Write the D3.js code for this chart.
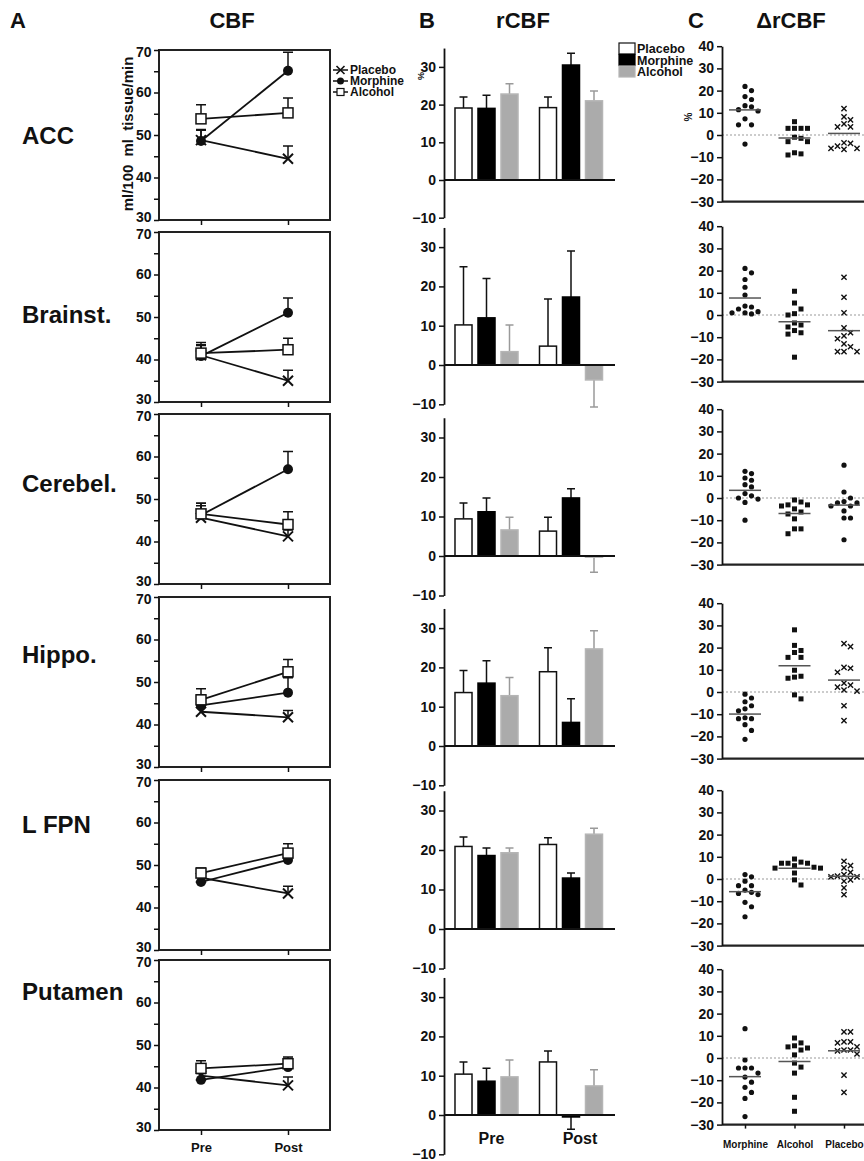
<!DOCTYPE html>
<html>
<head>
<meta charset="utf-8">
<script src="https://cdn.jsdelivr.net/npm/d3@7"></script>
<style>
  body { margin: 0; background: #fff; }
  text { font-family: "Liberation Sans", Arial, sans-serif; font-weight: bold; fill: #111; }
</style>
</head>
<body>
<div id="chart"></div>
<script>
// ---- data ----
const regions = ["ACC", "Brainst.", "Cerebel.", "Hippo.", "L FPN", "Putamen"];
const groups = ["Placebo", "Morphine", "Alcohol"];
const times = ["Pre", "Post"];
const deltaGroups = ["Morphine", "Alcohol", "Placebo"];

// A: CBF (ml/100 ml tissue/min), [region][Pre, Post]
const cbfPlacebo   = [[48.8, 44.4], [41.0, 35.0], [45.6, 41.2], [43.0, 41.7], [47.0, 43.3], [42.8, 40.5]];
const cbfPlaceboSE = [[2.5, 3.0], [2.5, 2.5], [2.8, 1.5], [1.5, 1.6], [1.5, 1.7], [1.5, 2.0]];
const cbfMorphine   = [[48.6, 65.1], [40.8, 51.0], [46.2, 57.0], [44.5, 47.5], [46.0, 51.2], [41.8, 44.8]];
const cbfMorphineSE = [[2.5, 4.4], [2.5, 3.5], [2.8, 4.2], [2.5, 3.5], [1.5, 2.0], [1.5, 2.0]];
const cbfAlcohol   = [[53.8, 55.2], [41.5, 42.3], [46.5, 44.0], [45.8, 52.4], [48.1, 52.8], [44.5, 45.6]];
const cbfAlcoholSE = [[3.3, 3.5], [2.5, 2.7], [2.5, 3.0], [2.6, 2.9], [1.2, 2.2], [1.8, 1.6]];

// B: rCBF (%), [region][Pre, Post]
const rcbfPlacebo   = [[19.1, 19.2], [10.2, 4.8], [9.4, 6.3], [13.6, 18.9], [20.9, 21.4], [10.4, 13.5]];
const rcbfPlaceboSE = [[2.9, 2.8], [14.8, 12.0], [4.0, 3.5], [5.6, 6.1], [2.4, 1.7], [3.1, 2.8]];
const rcbfMorphine   = [[19.0, 30.5], [12.0, 17.3], [11.2, 14.7], [16.0, 6.0], [18.6, 12.9], [8.6, -0.5]];
const rcbfMorphineSE = [[3.5, 3.1], [10.0, 11.7], [3.5, 2.3], [5.7, 6.0], [1.9, 1.3], [3.3, 3.1]];
const rcbfAlcohol   = [[22.8, 21.0], [3.4, -3.8], [6.6, -0.3], [12.8, 24.7], [19.3, 24.0], [9.7, 7.4]];
const rcbfAlcoholSE = [[2.7, 2.6], [6.8, 6.9], [3.2, 3.8], [4.6, 4.6], [1.2, 1.5], [4.3, 4.1]];

// C: ΔrCBF (%), individual subjects, [region][subject]
const dMorphine = [
  [21.9, 20, 17.3, 16, 13.2, 12.7, 11.4, 10.8, 7.3, 4.6, 4.6, -4.1],
  [21, 19, 16, 12.5, 9, 4, 3.6, 2.7, 1.5, 1, 1, 0.5],
  [12, 11, 9, 8, 6, 5, 2, 1, 0, -0.5, -2, -10],
  [-1, -2.7, -4.4, -6.2, -7.6, -8.5, -11.6, -12, -12, -14.7, -17.3, -21.3],
  [2, 1, -1, -3, -3, -5, -6, -6.5, -7, -10.5, -12.5, -17],
  [13.2, -0.9, -4.5, -4.5, -4.5, -6.8, -8.6, -10.9, -13.2, -15.5, -18.2, -26.4]
];
const dAlcohol = [
  [6, 3, 3, 3, 3, -1, -1.5, -3, -3, -8, -8.5, -9],
  [10.7, 5.4, 2.7, 0.6, 0, -3.6, -4.5, -5.4, -7, -8, -8.6, -19],
  [-0.9, -1.8, -3.1, -3.1, -3.6, -4.9, -6.3, -7.2, -9.4, -13.9, -13.9, -16.1],
  [28, 21, 18.7, 17.8, 15.6, 15.6, 9.8, 7.1, 6.7, 6.2, -1.3, -3.1],
  [9, 7.6, 7.1, 7.1, 7.1, 6, 5.3, 4.9, 4.9, 2.7, -0.4, -2.7],
  [9, 6.8, 5.5, 5, 4.5, 3.6, 1.4, -2.3, -4.1, -6.8, -17.7, -24]
];
const dPlacebo = [
  [11.9, 8.2, 6.8, 5, 3.7, 3.7, -3.5, -3.8, -5, -6, -6, -6.5],
  [17, 8, 1, -5.8, -8, -9.4, -10.7, -13, -14.3, -16.5, -16.5, -16.5],
  [14.8, 2.7, 0, -1.6, -2.2, -2.2, -3.6, -3.6, -5.8, -9, -9, -18.8],
  [21.8, 20.4, 11.1, 10.7, 8.9, 4, 3.1, 2.2, 0.9, 0.4, -6.2, -12.9],
  [8, 6, 5, 3, 2, 1.3, 1, 1, -0.4, -1, -4, -7],
  [11.8, 11.8, 7.3, 7.3, 6.8, 5, 3.6, 3.6, 3.2, 1.8, -7.7, -15.5]
];

// ---- layout ----
const width = 864, height = 1161;
const rowLabelY = [144, 323, 492, 663, 833, 1000];
const aTop = [50, 232, 414, 597, 780, 960], aH = 170;
const bZero = [180, 365, 556, 746, 929, 1115];
const bUnit = [3.77, 3.93, 3.95, 3.93, 3.95, 3.93];
const cZero = [135, 315, 498, 692, 879, 1058], cUnit = 2.22;
const placeboDotRow = 2; // cerebellum placebo drawn as dots

const svg = d3.select("#chart").append("svg")
  .attr("width", width).attr("height", height);

const ink = "#111";

// titles
const title = (x, y, t, anchor) => svg.append("text").attr("x", x).attr("y", y)
  .attr("text-anchor", anchor || "start").style("font-size", "22px").text(t);
title(10, 28, "A"); title(232, 28, "CBF", "middle");
title(419, 28, "B"); title(523, 28, "rCBF", "middle");
title(688, 28, "C"); title(791, 28, "ΔrCBF", "middle");

regions.forEach((r, i) => {
  svg.append("text").attr("x", 22).attr("y", rowLabelY[i])
    .style("font-size", "24px").text(r);
});

// small helper: X marker
function xMark(g, x, y, s, w) {
  g.append("path")
    .attr("d", `M${x - s},${y - s}L${x + s},${y + s}M${x - s},${y + s}L${x + s},${y - s}`)
    .attr("stroke", ink).attr("stroke-width", w).attr("fill", "none");
}

// ---- panel A ----
const aX = d3.scalePoint().domain(times).range([201, 288]);
const cbf = [
  { name: "Placebo", m: cbfPlacebo, se: cbfPlaceboSE },
  { name: "Morphine", m: cbfMorphine, se: cbfMorphineSE },
  { name: "Alcohol", m: cbfAlcohol, se: cbfAlcoholSE }
];

function drawMarkerA(g, name, x, y) {
  if (name === "Placebo") xMark(g, x, y, 5, 2);
  else if (name === "Morphine") g.append("circle").attr("cx", x).attr("cy", y).attr("r", 5).attr("fill", ink);
  else g.append("rect").attr("x", x - 5).attr("y", y - 5).attr("width", 10).attr("height", 10)
    .attr("fill", "#fff").attr("stroke", ink).attr("stroke-width", 1.5);
}

regions.forEach((r, i) => {
  const g = svg.append("g");
  const y = d3.scaleLinear().domain([30, 70]).range([aTop[i] + aH, aTop[i]]);

  g.append("rect").attr("x", 159).attr("y", aTop[i]).attr("width", 171).attr("height", aH)
    .attr("fill", "none").attr("stroke", "#222").attr("stroke-width", 2);

  const ya = g.append("g").attr("transform", "translate(159,0)")
    .call(d3.axisLeft(y).tickValues(d3.range(30, 71, 5)).tickSize(5)
      .tickFormat(d => d % 10 === 0 ? d : ""));
  ya.select(".domain").remove();
  ya.selectAll("line").attr("stroke", ink).attr("stroke-width", 1.5);
  ya.selectAll("text").style("font-size", "14px").attr("dx", "0.5")
    .attr("dy", d => d === 30 ? "0.1em" : d === 70 ? "0.45em" : "0.32em");

  const xa = g.append("g").attr("transform", `translate(0,${aTop[i] + aH})`)
    .call(d3.axisBottom(aX).tickSize(5).tickFormat(d => i === regions.length - 1 ? d : ""));
  xa.select(".domain").remove();
  xa.selectAll("line").attr("stroke", ink).attr("stroke-width", 1.5);
  xa.selectAll("text").style("font-size", "13px").attr("dy", "1.1em");

  const line = d3.line().x(d => aX(d.t)).y(d => y(d.v));
  cbf.forEach(s => {
    const pts = times.map((t, k) => ({ t, v: s.m[i][k], e: s.se[i][k] }));
    g.append("path").datum(pts).attr("d", line).attr("fill", "none")
      .attr("stroke", ink).attr("stroke-width", 1.8);
    pts.forEach(p => {
      const x = aX(p.t);
      g.append("path")
        .attr("d", `M${x},${y(p.v)}V${y(p.v + p.e)}M${x - 5},${y(p.v + p.e)}H${x + 5}`)
        .attr("stroke", ink).attr("stroke-width", 1.5).attr("fill", "none");
    });
  });
  cbf.forEach(s => times.forEach((t, k) => drawMarkerA(g, s.name, aX(t), y(s.m[i][k]))));
});

// y label A
svg.append("text").attr("transform", "translate(133,134) rotate(-90)")
  .attr("text-anchor", "middle").style("font-size", "15px").style("word-spacing", "4px")
  .text("ml/100 ml tissue/min");

// legend A
groups.forEach((name, k) => {
  const ly = 70 + k * 11;
  svg.append("line").attr("x1", 333).attr("x2", 348).attr("y1", ly).attr("y2", ly)
    .attr("stroke", ink).attr("stroke-width", 1.5);
  const lg = svg.append("g");
  if (name === "Placebo") xMark(lg, 340.5, ly, 4, 1.6);
  else if (name === "Morphine") lg.append("circle").attr("cx", 340.5).attr("cy", ly).attr("r", 3.5).attr("fill", ink);
  else lg.append("rect").attr("x", 337).attr("y", ly - 3.5).attr("width", 7).attr("height", 7)
    .attr("fill", "#fff").attr("stroke", ink).attr("stroke-width", 1.2);
  svg.append("text").attr("x", 350).attr("y", ly + 4).style("font-size", "12px").text(name);
});

// ---- panel B ----
const bFill = { Placebo: "#fff", Morphine: "#000", Alcohol: "#ababab" };
const bStroke = { Placebo: "#111", Morphine: "#000", Alcohol: "#b5b5b5" };
const bErr = { Placebo: "#111", Morphine: "#111", Alcohol: "#9a9a9a" };
const rcbf = [
  { name: "Placebo", m: rcbfPlacebo, se: rcbfPlaceboSE },
  { name: "Morphine", m: rcbfMorphine, se: rcbfMorphineSE },
  { name: "Alcohol", m: rcbfAlcohol, se: rcbfAlcoholSE }
];
const bX0 = d3.scalePoint().domain(times).range([486.5, 571]);
const bX1 = d3.scaleBand().domain(groups).range([-34.5, 34.5]).paddingInner(0.26).paddingOuter(0.13);

regions.forEach((r, i) => {
  const g = svg.append("g");
  const y = d3.scaleLinear().domain([-10, 35])
    .range([bZero[i] + 10 * bUnit[i], bZero[i] - 35 * bUnit[i]]);

  rcbf.forEach(s => times.forEach((t, k) => {
    const v = s.m[i][k], e = s.se[i][k];
    const x = bX0(t) + bX1(s.name);
    const cx = x + bX1.bandwidth() / 2;
    const ye = v >= 0 ? v + e : v - e;
    g.append("path").attr("d", `M${cx},${y(v)}V${y(ye)}M${cx - 4},${y(ye)}H${cx + 4}`)
      .attr("stroke", bErr[s.name]).attr("stroke-width", 1.5).attr("fill", "none");
    g.append("rect").attr("x", x).attr("width", bX1.bandwidth())
      .attr("y", Math.min(y(v), y(0))).attr("height", Math.abs(y(v) - y(0)))
      .attr("fill", bFill[s.name]).attr("stroke", bStroke[s.name]).attr("stroke-width", 1.5);
  }));

  g.append("line").attr("x1", 444).attr("x2", 615).attr("y1", y(0)).attr("y2", y(0))
    .attr("stroke", ink).attr("stroke-width", 1.8);

  const ya = g.append("g").attr("transform", "translate(444,0)")
    .call(d3.axisLeft(y).tickValues([-10, 0, 10, 20, 30]).tickSize(5).tickSizeOuter(0));
  ya.select(".domain").attr("stroke", ink).attr("stroke-width", 1.8);
  ya.selectAll("line").attr("stroke", ink).attr("stroke-width", 1.5);
  ya.selectAll("text").style("font-size", "14px");

  if (i === regions.length - 1) {
    times.forEach(t => svg.append("text").attr("x", bX0(t) + (t === "Pre" ? 5 : 9)).attr("y", 1144)
      .attr("text-anchor", "middle").style("font-size", "16px").text(t));
  }
});

svg.append("text").attr("transform", "translate(424,76) rotate(-90)")
  .attr("text-anchor", "middle").style("font-size", "9px").text("%");

// legend B
groups.forEach((name, k) => {
  const ly = 43 + k * 11.5;
  svg.append("rect").attr("x", 619).attr("y", ly).attr("width", 16).attr("height", 11)
    .attr("fill", bFill[name]).attr("stroke", bStroke[name]).attr("stroke-width", 1.2);
  svg.append("text").attr("x", 637).attr("y", ly + 10).style("font-size", "12.5px").text(name);
});

// ---- panel C ----
const cX = d3.scalePoint().domain(deltaGroups).range([745, 844]);
const deltas = { Morphine: dMorphine, Alcohol: dAlcohol, Placebo: dPlacebo };

function swarm(vals, cx, y, step, minD) {
  const placed = [];
  vals.slice().sort((a, b) => b - a).forEach(v => {
    const py = y(v);
    for (let k = 0; k < 40; k++) {
      const px = cx + (k % 2 ? 1 : -1) * Math.ceil(k / 2) * step;
      if (placed.every(p => (p.x - px) ** 2 + (p.y - py) ** 2 >= minD * minD)) {
        placed.push({ x: px, y: py, v });
        break;
      }
    }
  });
  return placed;
}

regions.forEach((r, i) => {
  const g = svg.append("g");
  const y = d3.scaleLinear().domain([-30, 40])
    .range([cZero[i] + 30 * cUnit, cZero[i] - 40 * cUnit]);

  g.append("line").attr("x1", 722).attr("x2", 870).attr("y1", y(0)).attr("y2", y(0))
    .attr("stroke", "#999").attr("stroke-width", 1).attr("stroke-dasharray", "2,2");
  g.append("line").attr("x1", 722).attr("x2", 870).attr("y1", y(-30)).attr("y2", y(-30))
    .attr("stroke", "#222").attr("stroke-width", 2.2);

  const ya = g.append("g").attr("transform", "translate(722,0)")
    .call(d3.axisLeft(y).tickValues(d3.range(-30, 41, 10)).tickSize(5).tickSizeOuter(0));
  ya.select(".domain").attr("stroke", ink).attr("stroke-width", 1.8);
  ya.selectAll("line").attr("stroke", ink).attr("stroke-width", 1.5);
  ya.selectAll("text").style("font-size", "14px");

  deltaGroups.forEach(name => {
    const vals = deltas[name][i];
    const cx = cX(name);
    const m = d3.mean(vals);
    swarm(vals, cx, y, 6.5, 6).forEach(p => {
      if (name === "Morphine" || (name === "Placebo" && i === placeboDotRow))
        g.append("circle").attr("cx", p.x).attr("cy", p.y).attr("r", 2.6).attr("fill", ink);
      else if (name === "Alcohol")
        g.append("rect").attr("x", p.x - 2.5).attr("y", p.y - 2.5).attr("width", 5).attr("height", 5).attr("fill", ink);
      else xMark(g, p.x, p.y, 2.6, 1.4);
    });
    g.append("line").attr("x1", cx - 16).attr("x2", cx + 16).attr("y1", y(m)).attr("y2", y(m))
      .attr("stroke", "#555").attr("stroke-width", 1.5);
  });

  if (i === regions.length - 1) {
    const xa = g.append("g").attr("transform", `translate(0,${y(-30)})`)
      .call(d3.axisBottom(cX).tickSize(4));
    xa.select(".domain").remove();
    xa.selectAll("line").attr("stroke", ink).attr("stroke-width", 1.5);
    xa.selectAll("text").style("font-size", "10px").attr("dy", "1.6em");
  }
});

svg.append("text").attr("transform", "translate(692,117) rotate(-90)")
  .attr("text-anchor", "middle").style("font-size", "10px").text("%");
</script>
</body>
</html>
